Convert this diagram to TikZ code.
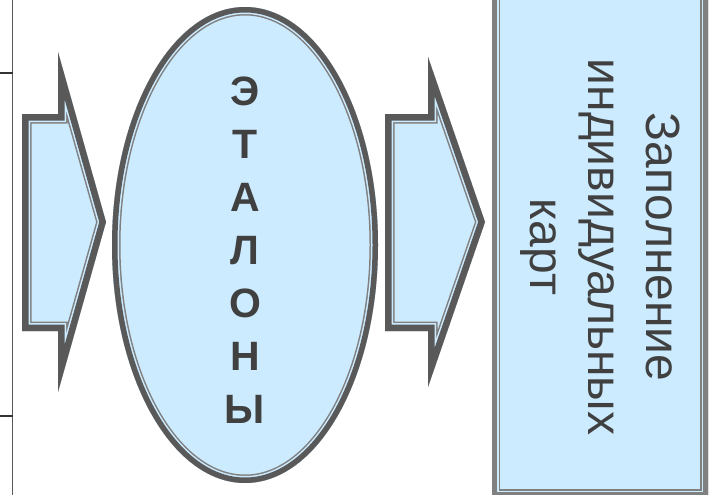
\documentclass[tikz,border=0pt]{standalone}
\usepackage{fontspec}
\setmainfont{Liberation Sans}
\definecolor{fillblue}{HTML}{CCEBFF}
\definecolor{darkline}{HTML}{595959}
\definecolor{midline}{HTML}{808080}
\definecolor{textgrey}{HTML}{404040}
\newcommand\arrowAshape[1]{\path[#1] (22,114) -- (58,114) -- (58,52) -- (106,222) -- (58,392) -- (58,331) -- (22,331) -- cycle;}
\newcommand\arrowBshape[1]{\path[#1] (385,114) -- (428,114) -- (428,57) -- (485,222) -- (428,387) -- (428,331) -- (385,331) -- cycle;}
\newcommand\ovalshape[1]{\path[#1] (245,245) ellipse [x radius=133, y radius=238];}
\newcommand\rectshape[1]{\path[#1] (492,-10) rectangle (708,497);}
\newcommand\compound[4]{% #1 shape macro, #2 outer color, #3 outer width, #4 inner line color
  \begin{scope}
    #1{clip}
    #1{fill=fillblue}
    #1{draw=#4, line width=#3*2+6}
    #1{draw=fillblue, line width=#3*2+3}
    #1{draw=#2, line width=#3*2}
  \end{scope}}
\begin{document}
\begin{tikzpicture}[x=1pt,y=-1pt, line join=miter,
  etalontext/.style={font=\bfseries\fontsize{41}{53}\selectfont, text=textgrey, align=center, inner sep=0pt},
  cardtext/.style={font=\fontsize{48}{58}\selectfont, text=textgrey, align=center, inner sep=0pt},
  edgeline/.style={line width=1.5pt, draw=#1}]
\useasboundingbox (0,0) rectangle (712,495);
% left partial frame
\coordinate (lt) at (12.7,0);
\coordinate (lb) at (12.7,495);
\coordinate (h1a) at (0,73);
\coordinate (h1b) at (12.7,73);
\coordinate (h2a) at (0,416);
\coordinate (h2b) at (12.7,416);
\draw[edgeline=black!65] (lt) -- (lb);
\draw[edgeline=black!80] (h1a) -- (h1b);
\draw[edgeline=black!80] (h2a) -- (h2b);
% shapes
\compound{\arrowAshape}{darkline}{6.5}{midline}
\compound{\ovalshape}{darkline}{5.5}{midline}
\compound{\arrowBshape}{darkline}{6.5}{midline}
\compound{\rectshape}{midline}{5}{midline}
% texts
\node[etalontext] (etalon) at (245,250) {Э\\Т\\А\\Л\\О\\Н\\Ы};
\node[cardtext, rotate=-90] (cards) at (600,247) {Заполнение\\индивидуальных\\карт};
\end{tikzpicture}
\end{document}
